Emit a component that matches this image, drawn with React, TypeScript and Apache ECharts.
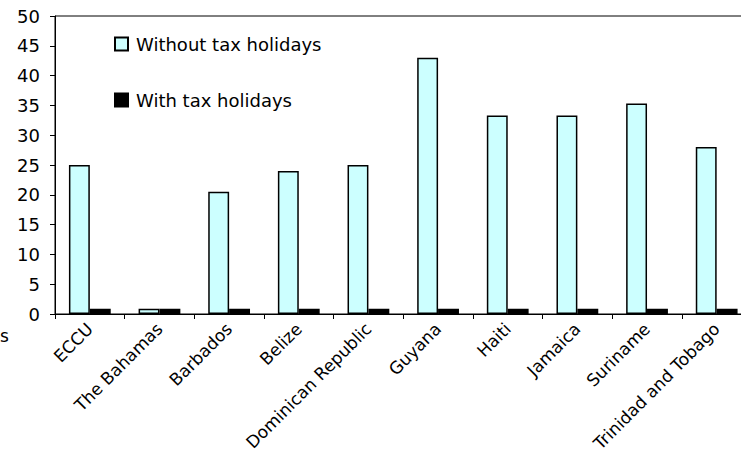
import React, { useEffect, useRef } from "react";
import * as echarts from "echarts";

// Countries / regions on the category axis
const categories = [
  "ECCU",
  "The Bahamas",
  "Barbados",
  "Belize",
  "Dominican Republic",
  "Guyana",
  "Haiti",
  "Jamaica",
  "Suriname",
  "Trinidad and Tobago",
];

// Effective rates (percent)
const withoutTaxHolidays = [25, 0.9, 20.5, 24, 25, 43, 33.3, 33.3, 35.3, 28];
const withTaxHolidays = [0.9, 0.9, 0.9, 0.9, 0.9, 0.9, 0.9, 0.9, 0.9, 0.9];

const FONT = "DejaVu Sans";

export default function App() {
  const ref = useRef<HTMLDivElement>(null);

  useEffect(() => {
    if (!ref.current) return;
    const chart = echarts.init(ref.current, undefined, { renderer: "svg" });
    chart.setOption({
      animation: false,
      backgroundColor: "#ffffff",
      textStyle: { fontFamily: FONT, color: "#000" },
      grid: {
        left: 55,
        top: 16,
        bottom: 144,
        right: -10.5,
        outerBoundsMode: "none",
        containLabel: false,
        show: true,
        borderColor: "#000",
        borderWidth: 1,
        backgroundColor: "transparent",
      },
      legend: {
        orient: "vertical",
        left: 114,
        top: 35,
        padding: 0,
        itemWidth: 13,
        itemHeight: 13,
        itemGap: 38,
        icon: "rect",
        textStyle: { fontFamily: FONT, fontSize: 18, color: "#000", padding: [0, 0, 0, 3] },
        data: ["Without tax holidays", "With tax holidays"],
      },
      xAxis: {
        type: "category",
        data: categories,
        axisLine: { lineStyle: { color: "#000", width: 1 } },
        axisTick: { show: true, length: 5, lineStyle: { color: "#000" } },
        axisLabel: {
          rotate: 45,
          interval: 0,
          margin: 12,
          fontFamily: FONT,
          fontSize: 17,
          color: "#000",
        },
      },
      yAxis: {
        type: "value",
        min: 0,
        max: 50,
        interval: 5,
        splitLine: { show: false },
        axisLine: { show: true, lineStyle: { color: "#000", width: 1 } },
        axisTick: { show: true, length: 5, lineStyle: { color: "#000" } },
        axisLabel: { margin: 15, fontFamily: FONT, fontSize: 18, color: "#000" },
      },
      graphic: [
        {
          type: "text",
          left: 0,
          top: 327,
          style: { text: "s", font: `17px "${FONT}"`, fill: "#000" },
        },
      ],
      series: [
        {
          name: "Without tax holidays",
          type: "bar",
          data: withoutTaxHolidays,
          barGap: "0%",
          barCategoryGap: "40%",
          itemStyle: { color: "#ccffff", borderColor: "#000", borderWidth: 1.5 },
        },
        {
          name: "With tax holidays",
          type: "bar",
          data: withTaxHolidays,
          barGap: "0%",
          barCategoryGap: "40%",
          itemStyle: { color: "#000", borderColor: "#000", borderWidth: 1.5 },
        },
      ],
    });
    return () => chart.dispose();
  }, []);

  return (
    <div
      ref={ref}
      style={{ position: "absolute", left: 0, top: 0, width: 741, height: 458, overflow: "hidden" }}
    />
  );
}
